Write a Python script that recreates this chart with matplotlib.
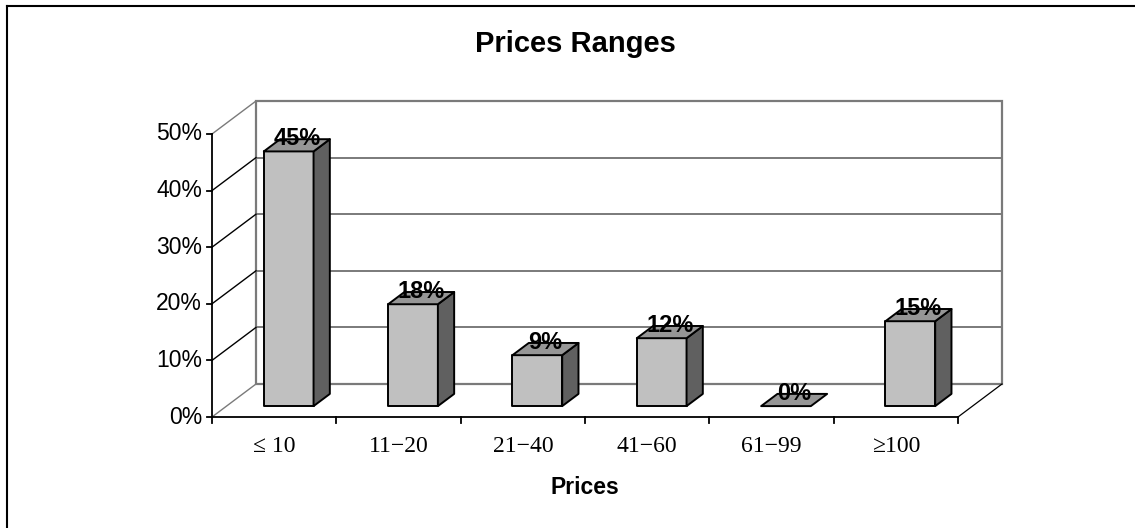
import matplotlib
matplotlib.use("Agg")
import matplotlib.pyplot as plt
from matplotlib.patches import Polygon
from matplotlib.lines import Line2D

categories = ["\u2264 10", "11\u221220", "21\u221240", "41\u221260", "61\u221299", "\u2265100"]
shares = [45, 18, 9, 12, 0, 15]
y_ticks = [0, 10, 20, 30, 40, 50]
y_tick_labels = ["0%", "10%", "20%", "30%", "40%", "50%"]

W, H = 1135, 528
# pixel geometry of the Excel-like 3D frame
PX_CAT = 124.33   # px per category
PX_PCT = 5.66     # px per percent
X0_PX, Y0_PX = 212, 417
DX = 44 / PX_CAT  # depth offset in category units
DY = 33 / PX_PCT  # depth offset in percent units

plt.rcParams["font.family"] = ["Liberation Sans", "DejaVu Sans"]
fig = plt.figure(figsize=(W / 100, H / 100), dpi=100)
ax = fig.add_axes([0, 0, 1, 1])
ax.set_xlim(-X0_PX / PX_CAT, (W - X0_PX) / PX_CAT)
ax.set_ylim(-(H - Y0_PX) / PX_PCT, Y0_PX / PX_PCT)
ax.axis("off")


def proj(x, y, d):
    return (x + d * DX, y + d * DY)


grey = "#7a7a7a"
n = len(categories)
top = y_ticks[-1]

# back wall
ax.add_patch(Polygon([proj(0, 0, 1), proj(n, 0, 1), proj(n, top, 1), proj(0, top, 1)],
                     closed=True, facecolor="white", edgecolor=grey, lw=1.6, zorder=1))
for v in y_ticks[1:-1]:
    (xa, ya), (xb, yb) = proj(0, v, 1), proj(n, v, 1)
    ax.plot([xa, xb], [ya, yb], color=grey, lw=1.4, zorder=1)

# left wall diagonals
for v in y_ticks:
    (xa, ya), (xb, yb) = proj(0, v, 0), proj(0, v, 1)
    col = grey if v in (0, top) else "black"
    ax.plot([xa, xb], [ya, yb], color=col, lw=1.0, zorder=2)

# floor right edge
(xa, ya), (xb, yb) = proj(n, 0, 0), proj(n, 0, 1)
ax.plot([xa, xb], [ya, yb], color="black", lw=0.9, zorder=2)

# front axes
ax.plot([0, 0], [0, top], color="black", lw=1.3, zorder=3)
ax.plot([0, n], [0, 0], color="black", lw=1.3, zorder=3)
tick_x = 5 / PX_CAT
for v, lab in zip(y_ticks, y_tick_labels):
    ax.plot([-tick_x, 0], [v, v], color="black", lw=1.3, zorder=3)
    ax.text(-10 / PX_CAT, v, lab, ha="right", va="center", fontsize=16.5)
tick_y = 6 / PX_PCT
for i in range(n + 1):
    ax.plot([i, i], [0, -tick_y], color="black", lw=1.3, zorder=3)
for i, lab in enumerate(categories):
    ax.text(i + 0.5, -30 / PX_PCT, lab, ha="center", va="center", fontsize=17,
            family=["Liberation Serif", "DejaVu Serif"])

# bars
d0, d1 = 0.33, 0.70
for i, v in enumerate(shares):
    x0, x1 = i + 0.3, i + 0.7
    kw = dict(closed=True, edgecolor="black", lw=1.4, zorder=4, joinstyle="round")
    if v > 0:
        ax.add_patch(Polygon([proj(x0, 0, d0), proj(x1, 0, d0), proj(x1, v, d0), proj(x0, v, d0)],
                             facecolor="#C0C0C0", **kw))
        ax.add_patch(Polygon([proj(x1, 0, d0), proj(x1, 0, d1), proj(x1, v, d1), proj(x1, v, d0)],
                             facecolor="#606060", **kw))
    ax.add_patch(Polygon([proj(x0, v, d0), proj(x1, v, d0), proj(x1, v, d1), proj(x0, v, d1)],
                         facecolor="#969696", **kw))
    lx, _ = proj(i + 0.5, v, 0.515)
    _, ly = proj(i + 0.5, v, 0.72)
    ax.text(lx, ly, f"{v}%", ha="center", va="center", fontsize=17,
            fontweight="bold", zorder=6)

# titles
ax.text((575 - X0_PX) / PX_CAT, (Y0_PX - 44) / PX_PCT, "Prices Ranges",
        ha="center", va="center", fontsize=21, fontweight="bold")
ax.text(n / 2, -(487 - Y0_PX) / PX_PCT, "Prices",
        ha="center", va="center", fontsize=16.5, fontweight="bold")

# chart area border (top and left visible)
fig.add_artist(Line2D([7 / W, 1], [1 - 6 / H, 1 - 6 / H], color="black", lw=1.5))
fig.add_artist(Line2D([7 / W, 7 / W], [0, 1 - 6 / H], color="black", lw=1.5))

fig.savefig("out.png", dpi=100)
